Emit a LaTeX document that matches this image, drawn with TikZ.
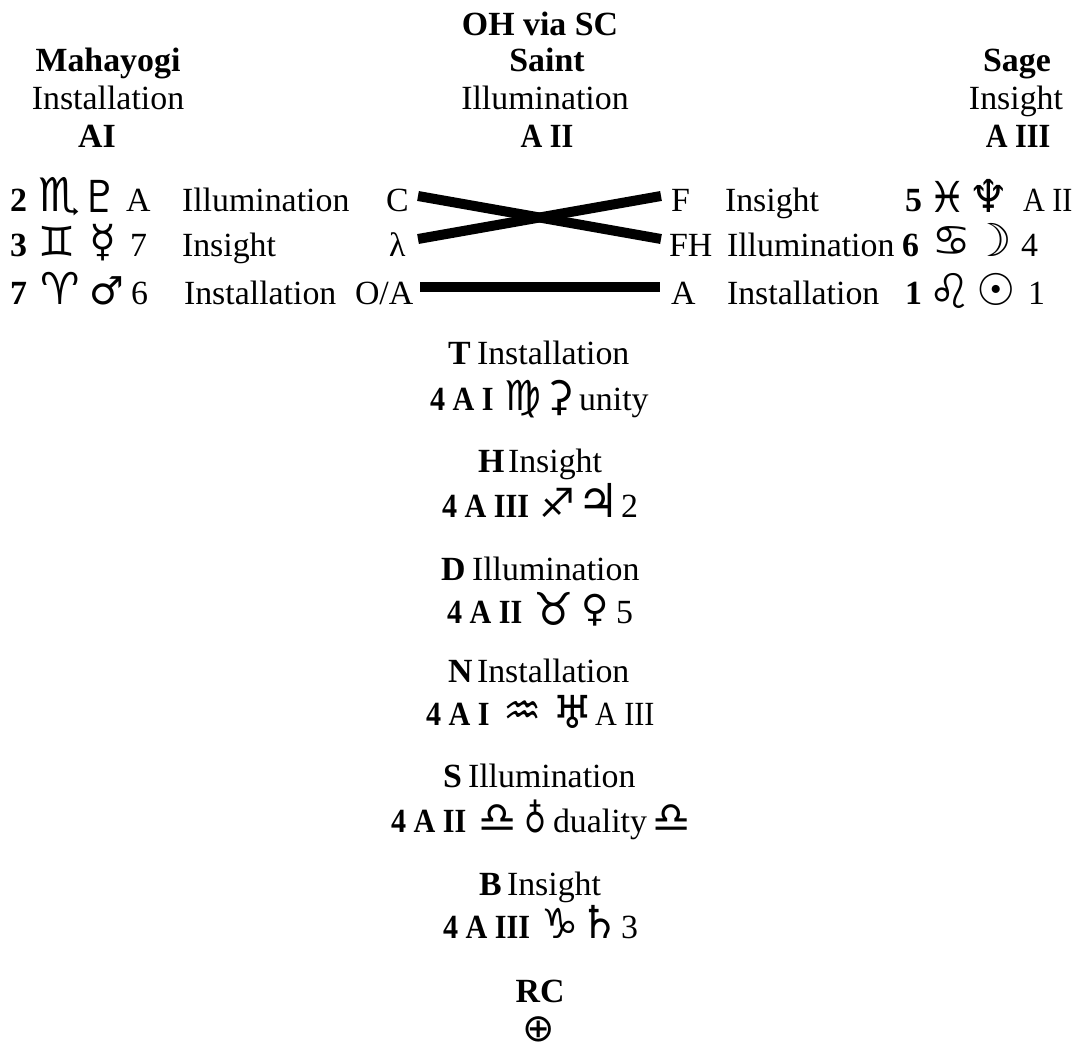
\documentclass[tikz,border=0pt]{standalone}
\usepackage{graphicx}
\usepackage{fontspec}
\setmainfont{Liberation Serif}
\newfontfamily\symfont{DejaVu Sans}
\newcommand{\nb}[1]{\scalebox{0.89}[1]{#1}}
\tikzset{
  x=0.75pt,y=-0.75pt,
  txt/.style={inner sep=0pt,outer sep=0pt,anchor=base west,font=\fontsize{25.4}{30}\selectfont},
  hd/.style={inner sep=0pt,outer sep=0pt,anchor=base,font=\fontsize{25.4}{30}\selectfont},
  bld/.style={txt,font=\fontsize{25.4}{30}\selectfont\bfseries},
  hdb/.style={hd,font=\fontsize{25.4}{30}\selectfont\bfseries},
  glyph/.style={inner sep=0pt,outer sep=0pt,anchor=base,font=\fontsize{#1}{30}\symfont},
  bar/.style={line width=7.5pt,line cap=butt,black}
}
\begin{document}
\begin{tikzpicture}
\useasboundingbox (0,0) rectangle (1073,1044);
% headers
\node[hdb] (mahayogi) at (108,72) {Mahayogi};
\node[hd] (inst1) at (108,110) {Installation};
\node[hdb] (ai) at (97,148) {AI};
\node[hdb] (oh) at (540,36) {OH via SC};
\node[hdb] (saint) at (547,72) {Saint};
\node[hd] (illum1) at (545,110) {Illumination};
\node[hdb] (aii) at (547,148) {\nb{A II}};
\node[hdb] (sage) at (1017,72) {Sage};
\node[hd] (ins1) at (1016,110) {Insight};
\node[hdb] (aiii) at (1018,148) {\nb{A III}};
% left rows
\node[bld] (l2) at (10,212) {2};
\node[glyph=35] (scorpio) at (59,212) {♏};
\node[glyph=33] (pluto) at (100,213) {♇};
\node[txt] (la) at (126,212) {A};
\node[txt] (lill) at (182,212) {Illumination};
\node[txt] (c) at (386,212) {C};
\node[bld] (l3) at (10,257) {3};
\node[glyph=31] (gemini) at (57,257) {♊};
\node[glyph=33] (mercury) at (103,257) {☿};
\node[txt] (l7) at (130,257) {7};
\node[txt] (lins) at (182,257) {Insight};
\node[txt] (lam) at (389,257) {λ};
\node[bld] (l7b) at (10,305) {7};
\node[glyph=33] (aries) at (60,305) {♈};
\node[glyph=29] (mars) at (107,305) {♂};
\node[txt] (l6) at (131,305) {6};
\node[txt] (linst) at (184,305) {Installation};
\node[txt] (oa) at (355,305) {O/A};
% right rows
\node[txt] (f) at (671,212) {F};
\node[txt] (rins) at (725,212) {Insight};
\node[bld] (r5) at (905,212) {5};
\node[glyph=32] (pisces) at (948,213) {♓};
\node[glyph=34] (neptune) at (989,213) {♆};
\node[txt] (raii) at (1023,212) {\nb{A II}};
\node[txt] (fh) at (669,257) {FH};
\node[txt] (rill) at (727,257) {Illumination};
\node[bld] (r6) at (902,257) {6};
\node[glyph=32] (cancer) at (952,256) {♋};
\node[glyph=34] (moon) at (992,257) {☽};
\node[txt] (r4) at (1021,257) {4};
\node[txt] (a) at (671,305) {A};
\node[txt] (rinst) at (727,305) {Installation};
\node[bld] (r1) at (905,305) {1};
\node[glyph=36] (leo) at (950,309) {♌};
\node[glyph=33] (sun) at (996,306) {☉};
\node[txt] (r1b) at (1028,305) {1};
% bars
\coordinate (c1) at (418,196);
\coordinate (c2) at (661,239);
\coordinate (c3) at (418,239);
\coordinate (c4) at (661,196);
\coordinate (c5) at (420,287);
\coordinate (c6) at (660,287);
\draw[bar] (c1) -- (c2);
\draw[bar] (c3) -- (c4);
\draw[bar] (c5) -- (c6);
% T
\node[bld] (tb) at (448,365) {T};
\node[txt] (tt) at (477,365) {Installation};
\node[bld] (t4) at (430,410) {\nb{4 A I}};
\node[glyph=31] (virgo) at (523,410) {♍};
\node[glyph=31] (ceres) at (560,410) {⚳};
\node[txt] (unity) at (579,410) {unity};
% H
\node[bld] (hb) at (478,472) {H};
\node[txt] (ht) at (508,472) {Insight};
\node[bld] (h4) at (442,517) {\nb{4 A III}};
\node[glyph=30] (sagit) at (557,517) {♐};
\node[glyph=35] (jupiter) at (598,517) {♃};
\node[txt] (h2) at (621,517) {2};
% D
\node[bld] (db) at (441,580) {D};
\node[txt] (dt) at (472,580) {Illumination};
\node[bld] (d4) at (447,623) {\nb{4 A II}};
\node[glyph=34] (taurus) at (554,625) {♉};
\node[glyph=28] (venus) at (595,621) {♀};
\node[txt] (d5) at (616,623) {5};
% N
\node[bld] (nb) at (448,682) {N};
\node[txt] (nt) at (477,682) {Installation};
\node[bld] (n4) at (426,725) {\nb{4 A I}};
\node[glyph=32] (aquarius) at (523,725) {♒};
\node[glyph=34] (uranus) at (573,728) {♅};
\node[txt] (naiii) at (595,725) {\nb{A III}};
% S
\node[bld] (sb) at (443,787) {S};
\node[txt] (st) at (468,787) {Illumination};
\node[bld] (s4) at (391,832) {\nb{4 A II}};
\node[glyph=32] (libra) at (498,832) {♎};
\node[glyph=29] (earth) at (536,832) {\scalebox{0.78}[1]{♁}};
\node[txt] (duality) at (553,832) {duality};
\node[glyph=32] (librab) at (672,832) {♎};
% B
\node[bld] (bb) at (479,895) {B};
\node[txt] (bt) at (507,895) {Insight};
\node[bld] (b4) at (443,938) {\nb{4 A III}};
\node[glyph=31] (capri) at (560,938) {♑};
\node[glyph=34] (saturn) at (600,938) {♄};
\node[txt] (b3) at (621,938) {3};
% RC
\node[hdb] (rc) at (540,1002) {RC};
\node[glyph=29] (oplus) at (539,1041) {⊕};
\end{tikzpicture}
\end{document}
